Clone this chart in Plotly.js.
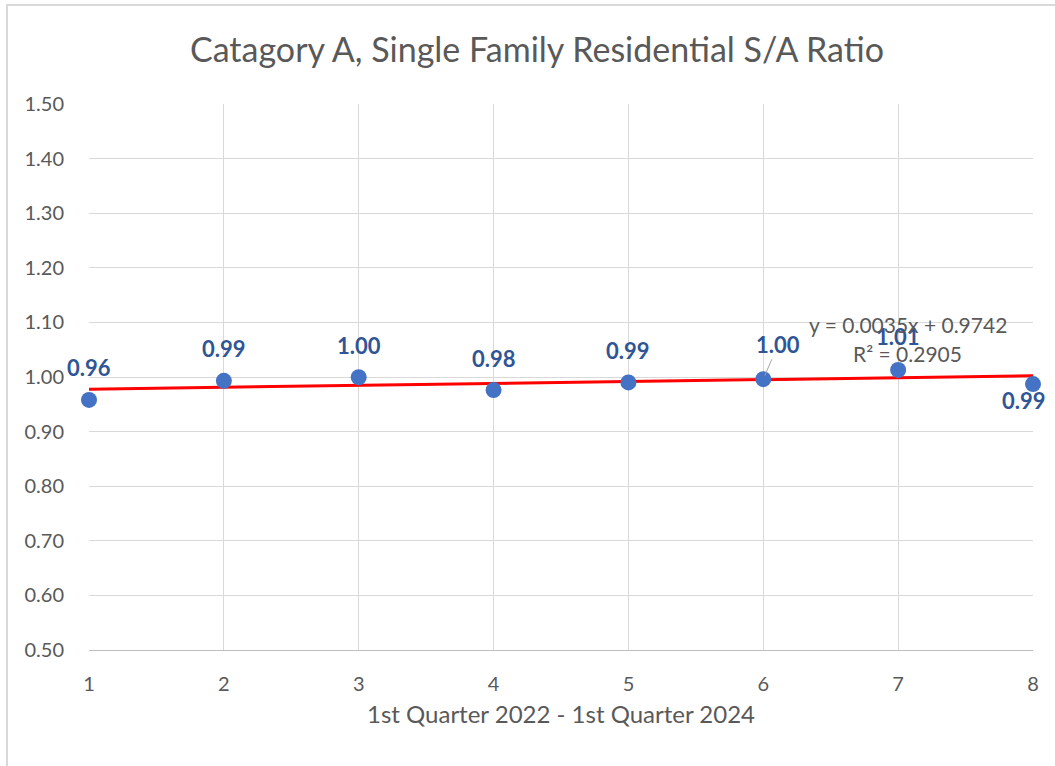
<!DOCTYPE html>
<html>
<head>
<meta charset="utf-8">
<script src="https://cdn.plot.ly/plotly-3.0.1.min.js"></script>
<style>
  html, body { margin: 0; padding: 0; background: #ffffff; overflow: hidden; }
  #chart { width: 1055px; height: 766px; position: relative; }
  #frame { position: absolute; left: 6px; top: 4px; width: 1100px; height: 800px;
           border: 2px solid #d9d9d9; box-sizing: border-box; pointer-events: none; z-index: 5; }
</style>
</head>
<body>
<div id="chart"></div>
<div id="frame"></div>
<script>
// ---- data ----
const quarters = [1, 2, 3, 4, 5, 6, 7, 8];
const ratios   = [0.958, 0.993, 0.9995, 0.976, 0.990, 0.996, 1.013, 0.987];
const yTicks   = [0.5, 0.6, 0.7, 0.8, 0.9, 1.0, 1.1, 1.2, 1.3, 1.4, 1.5];
const trendSlope = 0.0035;
const trendIntercept = 0.9742;
const trendR2 = 0.2905;
const chartTitle = "Catagory A, Single Family Residential S/A Ratio";
const xTitle = "1st Quarter 2022 - 1st Quarter 2024";

// label offsets (px) per point
const labelDx = [0, 0, 0, 0, 0, 15, 0, -9];
const labelDy = [32, 32, 32, 32, 32, 35, 33, -16];

const FONT = "Lato, 'Open Sans', sans-serif";
const GRAY = "#595959";
const LABEL = "#2F5597";

const trendX = [quarters[0], quarters[quarters.length - 1]];
const trendY = trendX.map(x => trendSlope * x + trendIntercept);

const traces = [
  {
    x: trendX, y: trendY, type: "scatter", mode: "lines",
    line: { color: "#FF0000", width: 3 }, hoverinfo: "skip", cliponaxis: false
  },
  {
    x: quarters, y: ratios, type: "scatter", mode: "markers",
    marker: { color: "#4472C4", size: 16 }, cliponaxis: false
  }
];

const annotations = quarters.map((q, i) => {
  const a = {
    x: q, y: ratios[i], xref: "x", yref: "y",
    text: "<b>" + ratios[i].toFixed(2) + "</b>",
    font: { family: FONT, size: 22, color: LABEL },
    showarrow: false, xanchor: "center", yanchor: "middle",
    xshift: labelDx[i], yshift: labelDy[i]
  };
  if (i === 5) {
    a.showarrow = true; a.arrowhead = 0; a.arrowwidth = 1; a.arrowcolor = "#a6a6a6";
    a.ax = labelDx[i]; a.ay = -labelDy[i]; a.axref = "pixel"; a.ayref = "pixel";
    a.standoff = 4; a.xshift = 0; a.yshift = 0;
  }
  return a;
});

annotations.push({
  x: 7.07, y: 1.0965, xref: "x", yref: "y", showarrow: false,
  text: "y = " + trendSlope.toFixed(4) + "x + " + trendIntercept.toFixed(4),
  font: { family: FONT, size: 21, color: GRAY }, xanchor: "center", yanchor: "middle"
});
annotations.push({
  x: 7.07, y: 1.0435, xref: "x", yref: "y", showarrow: false,
  text: "R² = " + trendR2.toFixed(4),
  font: { family: FONT, size: 21, color: GRAY }, xanchor: "center", yanchor: "middle"
});

const layout = {
  width: 1055, height: 766,
  margin: { l: 89, r: 22, t: 104, b: 116 },
  paper_bgcolor: "#ffffff", plot_bgcolor: "#ffffff",
  showlegend: false,
  title: {
    text: chartTitle, x: 0.509, xref: "container", xanchor: "center",
    y: 0.935, yref: "container", yanchor: "middle",
    font: { family: FONT, size: 34, color: GRAY }
  },
  xaxis: {
    range: [1, 8], tickvals: quarters, ticktext: quarters.map(String),
    showgrid: true, gridcolor: "#d9d9d9", gridwidth: 1,
    showline: true, linecolor: "#bfbfbf", linewidth: 1,
    zeroline: false, ticks: "outside", ticklen: 16, tickcolor: "rgba(0,0,0,0)",
    tickfont: { family: FONT, size: 20, color: GRAY },
    title: { text: xTitle, standoff: 12, font: { family: FONT, size: 24, color: GRAY } },
    automargin: false
  },
  yaxis: {
    range: [0.5, 1.5], tickvals: yTicks, ticktext: yTicks.map(v => v.toFixed(2)),
    showgrid: true, gridcolor: "#d9d9d9", gridwidth: 1,
    showline: false, zeroline: false,
    ticks: "outside", ticklen: 20, tickcolor: "rgba(0,0,0,0)",
    tickfont: { family: FONT, size: 20, color: GRAY },
    automargin: false
  },
  annotations: annotations
};

Plotly.newPlot("chart", traces, layout, { displayModeBar: false, staticPlot: true });
</script>
</body>
</html>
